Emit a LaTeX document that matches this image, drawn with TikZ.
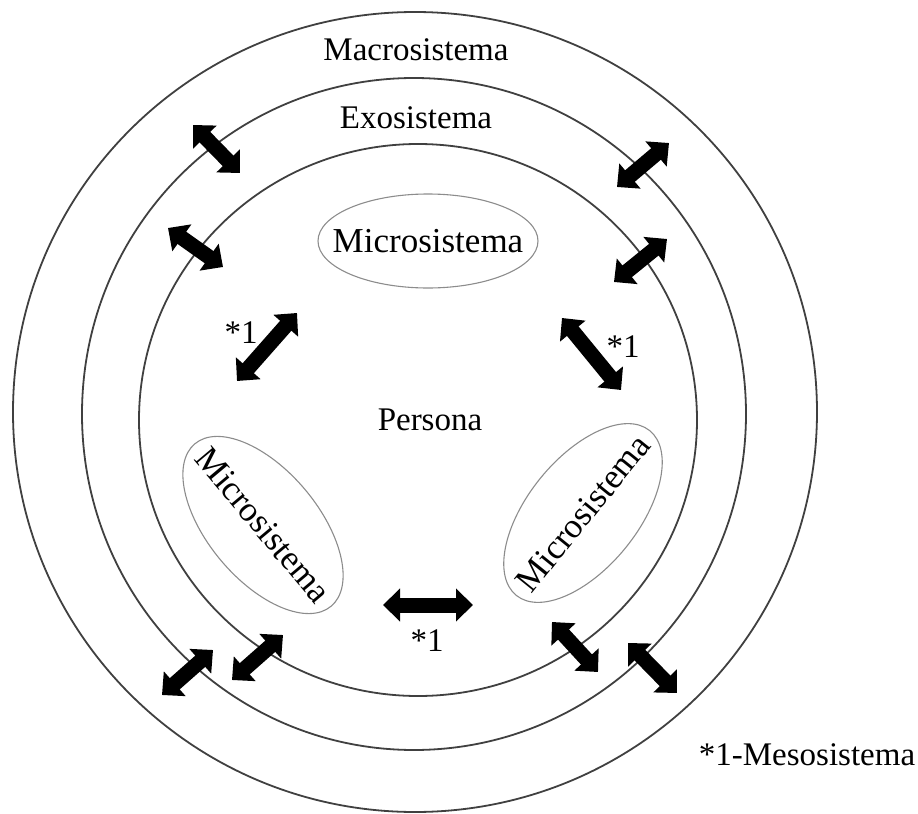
\documentclass[tikz,border=0pt]{standalone}
\usepackage{fontspec}
\setmainfont{Liberation Serif}
\usetikzlibrary{arrows.meta}

\begin{document}
\begin{tikzpicture}[x=0.5pt,y=-0.5pt,
        ring/.style={draw=black!75,line width=0.9pt},
        microring/.style={draw=black!45,line width=0.55pt},
        txt/.style={font=\fontsize{16.5}{20}\selectfont,inner sep=0pt},
        microtxt/.style={font=\fontsize{17.5}{21}\selectfont,inner sep=0pt},
        meso/.style={line width=7.5pt,
          {Triangle[width=16pt,length=8.5pt]}-{Triangle[width=16pt,length=8.5pt]}}]
        \useasboundingbox (0,0) rectangle (918,814);

        % the three systems
        \draw[ring] (415,412) ellipse (402 and 400);
        \draw[ring] (414,414) ellipse (332 and 336);
        \draw[ring] (418,420) ellipse (279 and 276);

        \node[txt] (macro) at (416,50) {Macrosistema};
        \node[txt] (exo) at (416,118) {Exosistema};
        \node[txt] (persona) at (430,420) {Persona};

        % microsystems
        \node[microtxt] (mtop) at (428,241) {Microsistema};
        \draw[microring] (mtop) ellipse (110 and 47);
        \node[microtxt,rotate=-50] (mleft) at (263,525) {Microsistema};
        \draw[microring,rotate around={-50:(mleft)}] (mleft) ellipse (106 and 55);
        \node[microtxt,rotate=51] (mright) at (583,513) {Microsistema};
        \draw[microring,rotate around={51:(mright)}] (mright) ellipse (106 and 55);

        % arrows between the systems
        \foreach \n/\a/\b in {1/{193,125}/{240,173}, 2/{168,228}/{223,267},
            3/{617,187}/{669,143}, 4/{614,282}/{667,239},
            5/{237,381}/{297,313}, 6/{562,318}/{621,390},
            7/{383,605}/{473,605}, 8/{162,695}/{213,650},
            9/{232,680}/{283,635}, 10/{552,622}/{598,672},
            11/{628,643}/{677,693}} {
          \coordinate (s\n) at (\a);
          \coordinate (t\n) at (\b);
          \draw[meso] (s\n) -- (t\n);
        }

        \node[txt] (m1) at (241,333) {*1};
        \node[txt] (m2) at (623,347) {*1};
        \node[txt] (m3) at (427,641) {*1};
        \node[txt] (legend) at (807,755) {*1-Mesosistema};
      \end{tikzpicture}
\end{document}
